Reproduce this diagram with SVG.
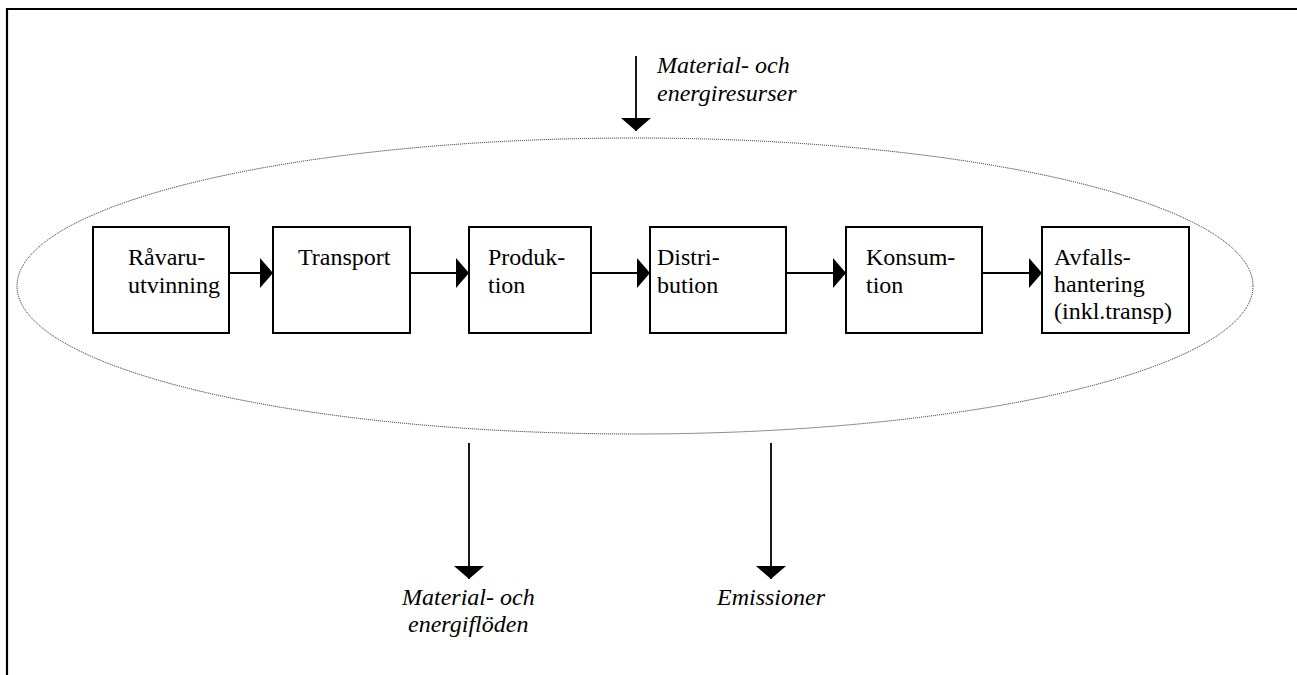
<svg xmlns="http://www.w3.org/2000/svg" width="1297" height="675" viewBox="0 0 1297 675">
<style>
.box{fill:#fff;stroke:#000;stroke-width:2}
.t{font-family:"Liberation Serif","Times New Roman",serif;font-size:24px;fill:#000}
.i{font-style:italic}
.c{stroke:#000;stroke-width:1.8;fill:none;marker-end:url(#ah)}
</style>
<defs>
<marker id="ah" markerUnits="userSpaceOnUse" markerWidth="13" markerHeight="30" refX="13" refY="15" orient="auto" viewBox="0 0 13 30">
<path d="M0,0 L13,15 L0,30 Z" fill="#000"/>
</marker>
</defs>
<rect width="1297" height="675" fill="#fff"/>
<g id="frame">
<path d="M7,675 V9 H1297" fill="none" stroke="#000" stroke-width="2.2"/>
</g>
<g id="boundary">
<ellipse cx="635" cy="286" rx="618" ry="148" fill="none" stroke="#1a1a1a" stroke-width="1" stroke-dasharray="1 1"/>
</g>
<g id="connectors">
<line class="c" x1="229" y1="273" x2="273" y2="273"/>
<line class="c" x1="410" y1="273" x2="469" y2="273"/>
<line class="c" x1="591" y1="273" x2="650" y2="273"/>
<line class="c" x1="786" y1="273" x2="846" y2="273"/>
<line class="c" x1="982" y1="273" x2="1042" y2="273"/>
<line class="c" x1="636" y1="56" x2="636" y2="131"/>
<line class="c" x1="469" y1="443" x2="469" y2="579"/>
<line class="c" x1="771" y1="443" x2="771" y2="579"/>
</g>
<g id="n1">
<rect class="box" x="93" y="227" width="136" height="106"/>
<text class="t" x="128" y="265">Råvaru-</text>
<text class="t" x="128" y="293">utvinning</text>
</g>
<g id="n2">
<rect class="box" x="273" y="227" width="137" height="106"/>
<text class="t" x="298" y="265">Transport</text>
</g>
<g id="n3">
<rect class="box" x="469" y="227" width="122" height="106"/>
<text class="t" x="488" y="265">Produk-</text>
<text class="t" x="488" y="293">tion</text>
</g>
<g id="n4">
<rect class="box" x="650" y="227" width="136" height="106"/>
<text class="t" x="657" y="265">Distri-</text>
<text class="t" x="657" y="293">bution</text>
</g>
<g id="n5">
<rect class="box" x="846" y="227" width="136" height="106"/>
<text class="t" x="866" y="265">Konsum-</text>
<text class="t" x="866" y="293">tion</text>
</g>
<g id="n6">
<rect class="box" x="1042" y="227" width="147" height="106"/>
<text class="t" x="1054" y="265">Avfalls-</text>
<text class="t" x="1054" y="292">hantering</text>
<text class="t" x="1054" y="319">(inkl.transp)</text>
</g>
<g id="lbl-in">
<text class="t i" x="657" y="73">Material- och</text>
<text class="t i" x="657" y="101">energiresurser</text>
</g>
<g id="lbl-out1">
<text class="t i" x="402" y="605">Material- och</text>
<text class="t i" x="408" y="632">energiflöden</text>
</g>
<g id="lbl-out2">
<text class="t i" x="717" y="605">Emissioner</text>
</g>
</svg>
